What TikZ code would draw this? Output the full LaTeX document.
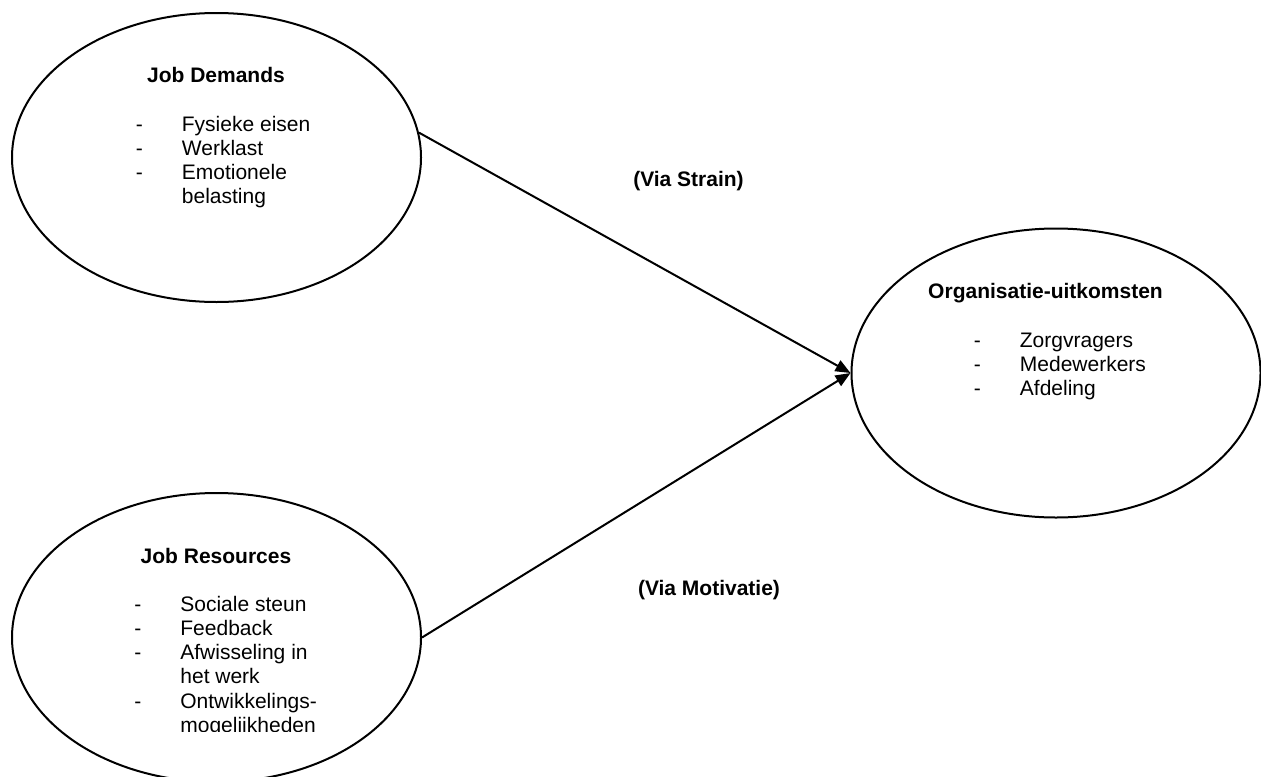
\documentclass[tikz,border=0pt]{standalone}
\usepackage{fontspec}
\setmainfont{Liberation Sans}
\usetikzlibrary{arrows.meta, positioning, shapes.geometric}

\begin{document}
\begin{tikzpicture}[x=0.5pt, y=-0.5pt,
    font=\fontsize{10.5}{12.15}\selectfont,
    blob/.style={draw, ellipse, line width=1pt, minimum width=204.5pt, minimum height=144.5pt, inner sep=0pt},
    heading/.style={font=\fontsize{10.5}{12.15}\selectfont\bfseries, inner sep=0pt, anchor=base},
    items/.style={inner sep=0pt, anchor=base west},
    link/.style={-{Triangle[length=7.5pt,width=6pt]}, line width=1pt}]
    \useasboundingbox (0,0) rectangle (1261,776);

    % Draw the three ellipses
    \node[blob] (demands) at (216.5,157.5) {};
    \node[blob] (resources) at (216.5,637.5) {};
    \node[blob] (outcome) at (1056,373) {};

    % Job demands
    \node[heading] (demandstitle) at (216,82) {Job Demands};
    \node[items] (demandslist) at (135.5,131) {\begin{tabular}[t]{@{}p{23pt}@{}l@{}}
        - & Fysieke eisen\\
        - & Werklast\\
        - & Emotionele\\
          & belasting
      \end{tabular}};

    % Job resources (last line is cut off)
    \node[heading] (resourcestitle) at (216,563) {Job Resources};
    \begin{scope}
      \clip (0,0) rectangle (1261,731);
      \node[items] (resourceslist) at (134,611) {\begin{tabular}[t]{@{}p{23pt}@{}l@{}}
          - & Sociale steun\\
          - & Feedback\\
          - & Afwisseling in\\
            & het werk\\
          - & Ontwikkelings-\\
            & mogelijkheden
        \end{tabular}};
    \end{scope}

    % Outcomes
    \node[heading] (outcometitle) at (1045.5,298) {Organisatie-uitkomsten};
    \node[items] (outcomelist) at (973.5,347) {\begin{tabular}[t]{@{}p{23pt}@{}l@{}}
        - & Zorgvragers\\
        - & Medewerkers\\
        - & Afdeling
      \end{tabular}};

    % Draw arrows
    \draw[link] (demands.7) -- (outcome.west);
    \draw[link] (resources.east) -- (outcome.west);

    % Arrow labels
    \node[heading] (strain) at (688.5,186) {(Via Strain)};
    \node[heading] (motivation) at (709,595) {(Via Motivatie)};
\end{tikzpicture}
\end{document}
